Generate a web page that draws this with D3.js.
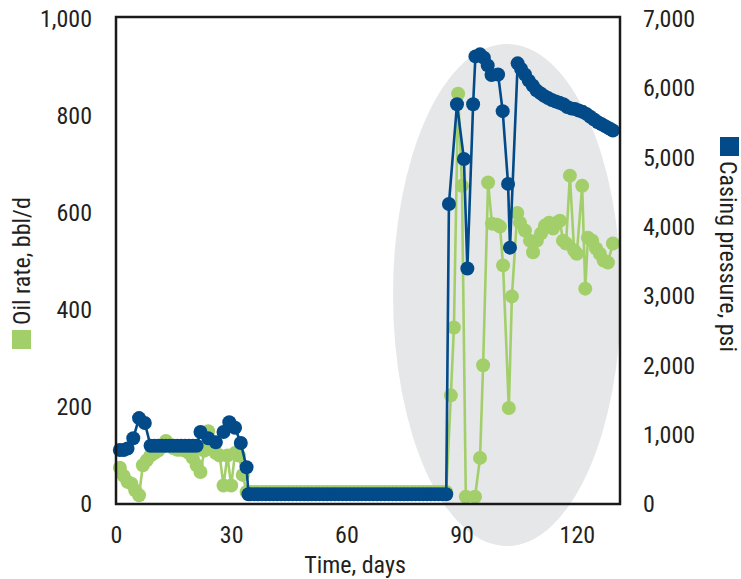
<!DOCTYPE html>
<html>
<head>
<meta charset="utf-8">
<script src="https://cdn.jsdelivr.net/npm/d3@7"></script>
<style>
  html, body { margin: 0; padding: 0; background: #ffffff; }
  svg { display: block; }
  text { font-family: 'Liberation Sans Narrow', 'Roboto Condensed', 'DejaVu Sans Condensed', sans-serif; font-stretch: condensed; fill: #231f20; }
</style>
</head>
<body>
<svg id="chart" width="741" height="579"></svg>
<script>
// ---------------- data ----------------
const xTicks = [0, 30, 60, 90, 120];
const oilTicks = [0, 200, 400, 600, 800, 1000];
const pressureTicks = [0, 1000, 2000, 3000, 4000, 5000, 6000, 7000];

// Oil rate, bbl/d
const oilDays = [
  1, 2, 3, 4, 5, 6, 7, 8, 9, 10, 11, 12, 13, 14, 15, 16, 17, 18, 19, 20,
  21, 22, 23, 24, 25, 26, 27, 28, 29, 30, 31, 32, 33, 34,
  35, 36, 37, 38, 39, 40, 41, 42, 43, 44, 45, 46, 47, 48, 49, 50,
  51, 52, 53, 54, 55, 56, 57, 58, 59, 60, 61, 62, 63, 64, 65, 66, 67, 68, 69, 70,
  71, 72, 73, 74, 75, 76, 77, 78, 79, 80, 81, 82, 83, 84, 85, 86,
  87.2, 88, 89.1, 90.1, 91.1, 93.5, 94.8, 95.6, 96.9, 97.9, 99.2, 100, 100.8, 102.3, 103.1, 104.5,
  105.2, 106.5, 107.8, 108.6, 109.6, 110.7, 111.7, 112.8, 113.8, 114.8, 115.6, 116.4, 117.2,
  118.2, 119.3, 120, 121.4, 122.2, 122.9, 124, 125, 126, 127, 128.1, 129.4
];
const oilRate = [
  75, 58, 46, 42, 28, 18, 80, 90, 100, 105, 110, 118, 130, 122, 115, 112, 112, 110, 105, 95,
  80, 66, 110, 150, 118, 105, 100, 38, 100, 38, 105, 100, 60, 25,
  25, 25, 25, 25, 25, 25, 25, 25, 25, 25, 25, 25, 25, 25, 25, 25,
  25, 25, 25, 25, 25, 25, 25, 25, 25, 25, 25, 25, 25, 25, 25, 25, 25, 25, 25, 25,
  25, 25, 25, 25, 25, 25, 25, 25, 25, 25, 25, 25, 25, 25, 25, 25,
  224, 364, 846, 656, 15, 15, 95, 286, 663, 578, 576, 572, 492, 198, 428, 600,
  580, 564, 543, 519, 543, 558, 574, 580, 568, 580, 584, 543, 537,
  677, 523, 516, 656, 444, 549, 543, 527, 516, 502, 498, 537
];

// Casing pressure, psi
const pressureDays = [
  1, 2, 3, 4.5, 6, 7.5, 9, 10, 11, 12, 13, 14, 15, 16, 17, 18, 19, 20, 21,
  22, 24, 26, 28, 29.5, 31, 32.5, 34, 34.5,
  35, 36, 37, 38, 39, 40, 41, 42, 43, 44, 45, 46, 47, 48, 49, 50,
  51, 52, 53, 54, 55, 56, 57, 58, 59, 60, 61, 62, 63, 64, 65, 66, 67, 68, 69, 70,
  71, 72, 73, 74, 75, 76, 77, 78, 79, 80, 81, 82, 83, 84, 85, 86,
  86.7, 88.8, 90.6, 91.5, 93, 93.6, 94.8, 95.8, 96.8, 97.8, 99.5, 100.7, 102.1, 102.6, 104.6,
  105.5, 106.5, 107.5, 108.5, 109.5, 110.5, 111.5, 112.5, 113.5, 114.5, 115.5, 116.5, 117.5,
  118.5, 119.5, 120.5, 121.5, 122.5, 123.5, 124.5, 125.5, 126.5, 127.5, 128.5, 129.4
];
const pressure = [
  780, 780, 800, 950, 1240, 1170, 840, 840, 840, 840, 840, 840, 840, 840, 840, 840, 840, 840, 840,
  1040, 950, 890, 1040, 1180, 1100, 880, 530, 140,
  140, 140, 140, 140, 140, 140, 140, 140, 140, 140, 140, 140, 140, 140, 140, 140,
  140, 140, 140, 140, 140, 140, 140, 140, 140, 140, 140, 140, 140, 140, 140, 140, 140, 140, 140, 140,
  140, 140, 140, 140, 140, 140, 140, 140, 140, 140, 140, 140, 140, 140, 140, 140,
  4330, 5770, 4980, 3400, 5770, 6460, 6490, 6440, 6330, 6190, 6200, 5670, 4620, 3700, 6360,
  6280, 6200, 6110, 6040, 5970, 5930, 5890, 5860, 5830, 5810, 5790, 5770, 5730,
  5710, 5700, 5680, 5660, 5630, 5590, 5550, 5510, 5480, 5450, 5420, 5390
];

// ---------------- layout ----------------
const svg = d3.select('#chart');
const mLeft = 116, mRight = 620, mTop = 17, mBottom = 504;
const x = d3.scaleLinear().domain([0, 131.25]).range([mLeft, mRight]);
const yOil = d3.scaleLinear().domain([0, 1000]).range([mBottom, 19]);
const yP = d3.scaleLinear().domain([0, 7000]).range([mBottom, 19]);

const green = '#a3cf6a';
const blue = '#024a88';
const fontSize = 24;
const fontFam = "'Liberation Sans Narrow','Roboto Condensed','DejaVu Sans Condensed',sans-serif";
const markerR = 7;

// highlight ellipse
svg.append('ellipse')
  .attr('cx', 507).attr('cy', 295).attr('rx', 114).attr('ry', 251)
  .attr('fill', '#e6e7e8');

const oilData = oilDays.map((d, i) => [d, oilRate[i]]);
const pData = pressureDays.map((d, i) => [d, pressure[i]]);

// oil series
svg.append('path')
  .datum(oilData)
  .attr('fill', 'none').attr('stroke', green).attr('stroke-width', 2.6)
  .attr('d', d3.line().x(d => x(d[0])).y(d => yOil(d[1])));
svg.append('g').selectAll('circle').data(oilData).join('circle')
  .attr('cx', d => x(d[0])).attr('cy', d => yOil(d[1])).attr('r', markerR)
  .attr('fill', green);

// pressure series
svg.append('path')
  .datum(pData)
  .attr('fill', 'none').attr('stroke', blue).attr('stroke-width', 2.6)
  .attr('d', d3.line().x(d => x(d[0])).y(d => yP(d[1])));
svg.append('g').selectAll('circle').data(pData).join('circle')
  .attr('cx', d => x(d[0])).attr('cy', d => yP(d[1])).attr('r', markerR)
  .attr('fill', blue);

// frame
svg.append('rect')
  .attr('x', mLeft).attr('y', mTop).attr('width', mRight - mLeft).attr('height', mBottom - mTop)
  .attr('fill', 'none').attr('stroke', '#1a1a1a').attr('stroke-width', 2.5);

// axes (labels only, no tick marks)
const fmt = d3.format(',');
const xAxis = d3.axisBottom(x).tickValues(xTicks).tickSize(0).tickPadding(22).tickFormat(d3.format('d'));
const gx = svg.append('g').attr('transform', `translate(0,${mBottom})`).call(xAxis);
const yAxisL = d3.axisLeft(yOil).tickValues(oilTicks).tickSize(0).tickPadding(24).tickFormat(fmt);
const gyl = svg.append('g').attr('transform', `translate(${mLeft},0)`).call(yAxisL);
const yAxisR = d3.axisRight(yP).tickValues(pressureTicks).tickSize(0).tickPadding(23).tickFormat(fmt);
const gyr = svg.append('g').attr('transform', `translate(${mRight},0)`).call(yAxisR);
[gx, gyl, gyr].forEach(g => {
  g.select('.domain').remove();
  g.attr('font-family', null).attr('font-size', null);
  g.selectAll('text').attr('font-size', fontSize).attr('fill', '#231f20')
    .style('font-family', fontFam);
});

// x title
svg.append('text').attr('x', 355).attr('y', 573).attr('text-anchor', 'middle')
  .attr('font-size', fontSize).text('Time, days');

// left legend / axis title
svg.append('rect').attr('x', 12).attr('y', 330).attr('width', 19).attr('height', 19).attr('fill', green);
svg.append('text').attr('transform', 'translate(30,325) rotate(-90)')
  .attr('text-anchor', 'start').attr('font-size', fontSize).text('Oil rate, bbl/d');

// right legend / axis title
svg.append('rect').attr('x', 720).attr('y', 137).attr('width', 19).attr('height', 19).attr('fill', blue);
svg.append('text').attr('transform', 'translate(720,161) rotate(90)')
  .attr('text-anchor', 'start').attr('font-size', fontSize).text('Casing pressure, psi');
</script>
</body>
</html>
